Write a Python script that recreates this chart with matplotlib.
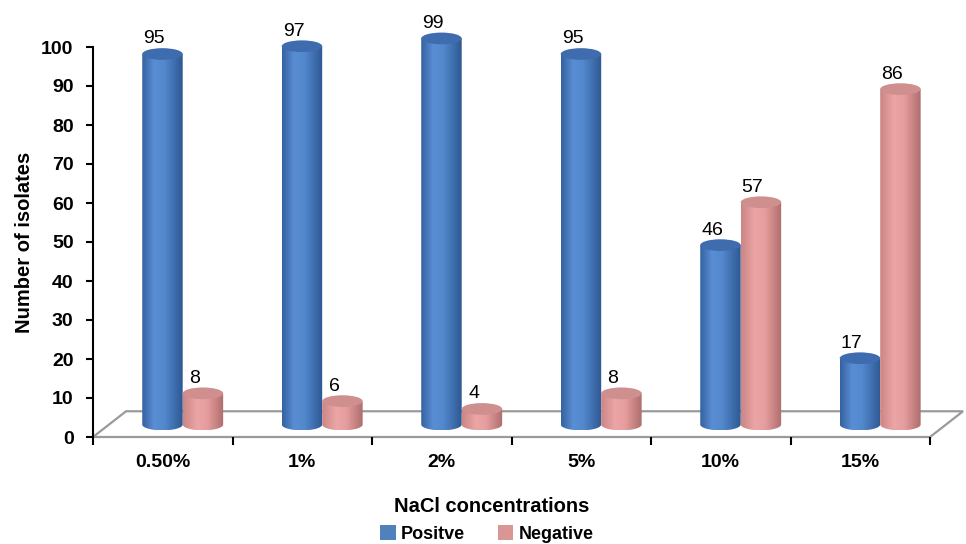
import numpy as np
import matplotlib
matplotlib.use('Agg')
import matplotlib.pyplot as plt
from matplotlib.patches import Polygon, Ellipse, Patch
from matplotlib.colors import LinearSegmentedColormap

plt.rcParams['font.family'] = ['Liberation Sans', 'DejaVu Sans']

# isolates growing at each NaCl level
categories = ['0.50%', '1%', '2%', '5%', '10%', '15%']
positive = [95, 97, 99, 95, 46, 17]
negative = [8, 6, 4, 8, 57, 86]

blue_cmap = LinearSegmentedColormap.from_list(
    'cyl_blue', [(0, '#3461a0'), (0.3, '#5a8ed4'), (0.55, '#5388cd'), (1, '#2d5892')])
pink_cmap = LinearSegmentedColormap.from_list(
    'cyl_pink', [(0, '#cc8585'), (0.35, '#eca6a6'), (0.6, '#e59c9c'), (1, '#ae6d6d')])

fig = plt.figure(figsize=(9.66, 5.44), dpi=100)
# axes runs to 110 so the tall cylinders are not cut; spine stops at 100
ax = fig.add_axes([93 / 966, 107 / 544, 837 / 966, 429 / 544])

depth_x, depth_y = 0.237, 6.6      # floor depth in data units
off_x, off_y = 0.143, 3.2          # bars stand mid-floor
bar_w = 0.29
ell_h = 3.0


def cylinder(xc, value, cmap, top_color, z):
    base = off_y
    top = value + off_y
    x0 = xc - bar_w / 2
    t = np.linspace(np.pi, 2 * np.pi, 60)
    arc = list(zip(xc + bar_w / 2 * np.cos(t), base + ell_h / 2 * np.sin(t)))
    verts = [(x0, top)] + arc + [(x0 + bar_w, top)]
    body = Polygon(verts, closed=True, facecolor='none', edgecolor='none', zorder=z)
    ax.add_patch(body)
    grad = np.linspace(0, 1, 256).reshape(1, -1)
    im = ax.imshow(grad, cmap=cmap, extent=(x0, x0 + bar_w, base - ell_h / 2, top),
                   aspect='auto', interpolation='bicubic', zorder=z)
    im.set_clip_path(body)
    ax.add_patch(Ellipse((xc, top), bar_w, ell_h, facecolor=top_color,
                         edgecolor='none', zorder=z + 0.1))
    ax.text(xc - 0.06, top + 2.7, str(value), ha='center', va='baseline',
            fontsize=14, color='black', zorder=z + 0.2)


# floor of the 3-D plot area
floor = Polygon([(0, 0), (6, 0), (6 + depth_x, depth_y), (depth_x, depth_y)],
                closed=True, facecolor='white', edgecolor='#9a9a9a', lw=1.6,
                clip_on=False, zorder=1)
ax.add_patch(floor)

for i in range(len(categories)):
    cc = i + 0.5 + off_x
    cylinder(cc - bar_w / 2, positive[i], blue_cmap, '#3f6cae', 3 + i)
    cylinder(cc + bar_w / 2, negative[i], pink_cmap, '#cf8f8f', 3.5 + i)

ax.set_xlim(0, 6)
ax.set_ylim(0, 110)
for s in ['top', 'right', 'bottom']:
    ax.spines[s].set_visible(False)
ax.spines['left'].set_color('black')
ax.spines['left'].set_linewidth(1.5)
ax.spines['left'].set_bounds(0, 100)
ax.spines['left'].set_zorder(10)

ax.set_yticks(np.arange(0, 101, 10))
ax.tick_params(axis='y', direction='out', length=5, width=1.5, pad=9, labelsize=14)
for lb in ax.get_yticklabels():
    lb.set_fontweight('bold')

ax.set_xticks(np.arange(0, 7))
ax.set_xticklabels([])
ax.set_xticks(np.arange(len(categories)) + 0.5, minor=True)
ax.set_xticklabels(categories, minor=True, fontsize=14, fontweight='bold')
ax.tick_params(axis='x', which='major', direction='out', length=6, width=1.5)
ax.tick_params(axis='x', which='minor', length=0, pad=12)

ax.set_ylabel('Number of isolates', fontsize=14.5, fontweight='bold')
ax.yaxis.set_label_coords(-0.071, 50 / 110)
ax.patch.set_visible(False)

fig.text(492 / 966, 1 - 507 / 544, 'NaCl concentrations', ha='center', va='center',
         fontsize=14.5, fontweight='bold')

handles = [Patch(facecolor='#4f81bd', label='Positve'),
           Patch(facecolor='#d99694', label='Negative')]
fig.legend(handles=handles, loc='center', bbox_to_anchor=(487 / 966, 1 - 534 / 544),
           ncol=2, frameon=False, handlelength=0.85, handleheight=0.85,
           handletextpad=0.3, columnspacing=1.8, borderpad=0,
           prop={'weight': 'bold', 'size': 13})

fig.savefig('out.png', dpi=100)
